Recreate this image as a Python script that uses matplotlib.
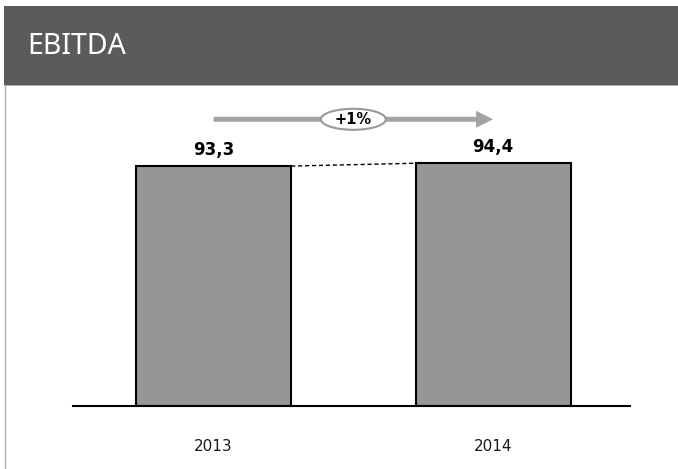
import matplotlib.pyplot as plt
from matplotlib.patches import Rectangle, Ellipse, FancyArrow
from matplotlib.lines import Line2D

years = ["2013", "2014"]
ebitda = [93.3, 94.4]
labels = ["93,3", "94,4"]
growth = "+1%"
title = "EBITDA"

W, H = 678, 469
fig = plt.figure(figsize=(W / 100, H / 100), dpi=100)
fig.patch.set_facecolor("white")

# header band
fig.patches.append(Rectangle((4 / W, (H - 85) / H), 1 - 4 / W, 79 / H,
                             transform=fig.transFigure, facecolor="#5b5b5b",
                             edgecolor="none", zorder=0))
fig.patches.append(Rectangle((4 / W, (H - 86) / H), 1 - 4 / W, 1.2 / H,
                             transform=fig.transFigure, facecolor="#a8a8a8",
                             edgecolor="none", zorder=0))
# left border
fig.lines.append(Line2D([4.5 / W, 4.5 / W], [0, (H - 86) / H], transform=fig.transFigure,
                        color="#b0b0b0", linewidth=1))
fig.text(27 / W, (H - 47) / H, title, color="white", fontsize=20.5,
         family="Noto Sans", va="center", ha="left")

ax = fig.add_axes([73 / W, 63 / H, 557 / W, 306 / H])
x = [0, 1]
ax.bar(x, ebitda, width=0.555, color="#969696", edgecolor="black", linewidth=1.5, zorder=2)
ax.set_xlim(-0.503, 1.49)
ax.set_ylim(0, 119)

for xi, v, lab in zip(x, ebitda, labels):
    ax.annotate(lab, (xi, v), xytext=(0, 5), textcoords="offset points",
                ha="center", va="bottom", fontsize=12, fontweight="bold")

# dashed connector between bar tops
w = 0.555 / 2
ax.plot([x[0] + w, x[1] - w], [ebitda[0], ebitda[1]], color="black",
        linestyle=(0, (3, 2)), linewidth=1, zorder=3)

# growth arrow
ay = 111.5
ax.add_patch(FancyArrow(x[0], ay, x[1] - x[0], 0, width=5 / 2.572,
                        head_width=17 / 2.572, head_length=17 / 279.5,
                        length_includes_head=True, color="#a3a3a3",
                        linewidth=0, clip_on=False, zorder=4))
ax.add_patch(Ellipse((0.5, ay), 65 / 279.5, 21 / 2.572, facecolor="white",
                     edgecolor="#999999", linewidth=1.5, zorder=5, clip_on=False))
ax.text(0.5, ay, growth, ha="center", va="center", fontsize=10.5,
        fontweight="bold", zorder=6)

ax.set_xticks(x)
ax.set_xticklabels(years, fontsize=11, color="#1a1a1a")
ax.tick_params(axis="x", length=0, pad=24)
ax.set_yticks([])
for s in ["top", "left", "right"]:
    ax.spines[s].set_visible(False)
ax.spines["bottom"].set_linewidth(1.5)
ax.set_facecolor("none")

fig.savefig("out.png", dpi=100)
